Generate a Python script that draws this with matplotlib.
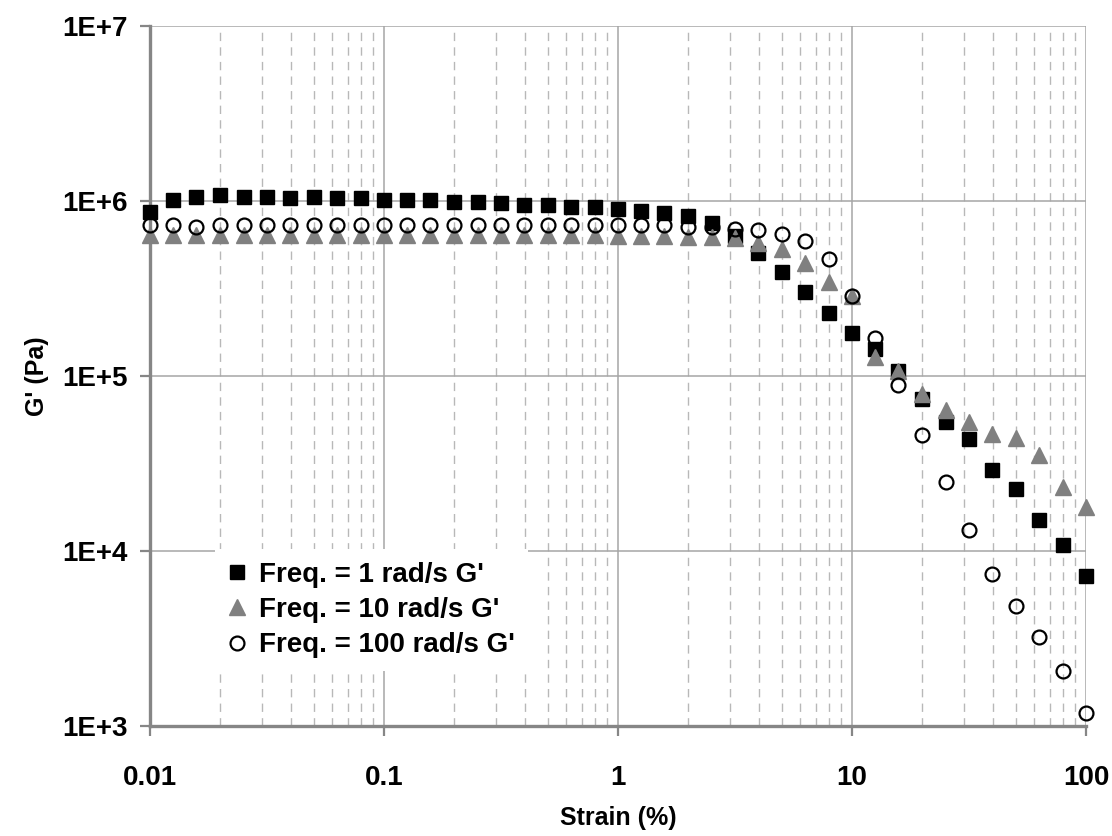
import matplotlib
matplotlib.use("Agg")
import matplotlib.pyplot as plt
from matplotlib.ticker import FixedLocator, FixedFormatter, NullFormatter

plt.rcParams['font.family'] = ['Liberation Sans', 'DejaVu Sans']
plt.rcParams['font.weight'] = 'bold'

# Strain (%) values, 10 points per decade
strain = [0.01, 0.0126, 0.0158, 0.02, 0.0251, 0.0316, 0.0398, 0.0501, 0.0631, 0.0794,
          0.1, 0.126, 0.158, 0.2, 0.251, 0.316, 0.398, 0.501, 0.631, 0.794,
          1.0, 1.26, 1.58, 2.0, 2.51, 3.16, 3.98, 5.01, 6.31, 7.94,
          10.0, 12.6, 15.8, 20.0, 25.1, 31.6, 39.8, 50.1, 63.1, 79.4, 100.0]

# G' (Pa) for each frequency
g_1 = [8.66e5, 1.01e6, 1.06e6, 1.08e6, 1.06e6, 1.06e6, 1.04e6, 1.06e6, 1.04e6, 1.04e6,
       1.01e6, 1.01e6, 1.01e6, 9.93e5, 9.93e5, 9.70e5, 9.49e5, 9.49e5, 9.29e5, 9.29e5,
       9.00e5, 8.77e5, 8.59e5, 8.21e5, 7.53e5, 6.31e5, 5.02e5, 3.93e5, 3.02e5, 2.30e5,
       1.77e5, 1.42e5, 1.065e5, 7.41e4, 5.44e4, 4.37e4, 2.92e4, 2.26e4, 1.51e4, 1.086e4, 7.22e3]

g_10 = [6.40e5, 6.40e5, 6.40e5, 6.40e5, 6.40e5, 6.40e5, 6.40e5, 6.40e5, 6.40e5, 6.40e5,
        6.40e5, 6.40e5, 6.40e5, 6.40e5, 6.40e5, 6.40e5, 6.40e5, 6.40e5, 6.40e5, 6.40e5,
        6.35e5, 6.31e5, 6.31e5, 6.25e5, 6.25e5, 6.18e5, 5.78e5, 5.35e5, 4.44e5, 3.44e5,
        2.85e5, 1.29e5, 1.065e5, 7.94e4, 6.43e4, 5.44e4, 4.69e4, 4.43e4, 3.55e4, 2.32e4, 1.78e4]

g_100 = [7.29e5, 7.29e5, 7.10e5, 7.29e5, 7.29e5, 7.29e5, 7.29e5, 7.29e5, 7.29e5, 7.29e5,
         7.29e5, 7.29e5, 7.29e5, 7.29e5, 7.29e5, 7.29e5, 7.29e5, 7.29e5, 7.29e5, 7.29e5,
         7.26e5, 7.26e5, 7.26e5, 7.14e5, 7.14e5, 6.96e5, 6.80e5, 6.51e5, 5.91e5, 4.64e5,
         2.86e5, 1.65e5, 8.86e4, 4.58e4, 2.48e4, 1.31e4, 7.41e3, 4.86e3, 3.24e3, 2.07e3, 1.18e3]

x_ticks = [0.01, 0.1, 1, 10, 100]
x_labels = ["0.01", "0.1", "1", "10", "100"]
y_ticks = [1e3, 1e4, 1e5, 1e6, 1e7]
y_labels = ["1E+3", "1E+4", "1E+5", "1E+6", "1E+7"]

GRID = "#a6a6a6"
AXIS = "#868686"

fig = plt.figure(figsize=(11.12, 8.36), dpi=100)
ax = fig.add_axes([150 / 1112, 1 - 726 / 836, 936 / 1112, 700 / 836])

ax.set_xscale("log")
ax.set_yscale("log")
ax.set_xlim(0.01, 100)
ax.set_ylim(1e3, 1e7)

# grid: solid majors, dashed vertical minors
ax.xaxis.set_major_locator(FixedLocator(x_ticks))
ax.xaxis.set_major_formatter(FixedFormatter(x_labels))
ax.yaxis.set_major_locator(FixedLocator(y_ticks))
ax.yaxis.set_major_formatter(FixedFormatter(y_labels))
minors = [m * d for d in [0.01, 0.1, 1, 10] for m in range(2, 10)]
ax.xaxis.set_minor_locator(FixedLocator(minors))
ax.xaxis.set_minor_formatter(NullFormatter())
ax.yaxis.set_minor_locator(FixedLocator([]))

ax.grid(True, which="major", color=GRID, linewidth=1.1, linestyle="-")
ax.grid(True, which="minor", axis="x", color="#b8b8b8", linewidth=1.0,
        linestyle=(0, (6, 4.5)))
ax.set_axisbelow(True)

for s in ["top", "right"]:
    ax.spines[s].set_visible(False)
for s in ["left", "bottom"]:
    ax.spines[s].set_color(AXIS)
    ax.spines[s].set_linewidth(2.4)

ax.tick_params(which="major", direction="out", length=7, width=1.6, color=AXIS,
               labelsize=20, pad=9)
ax.tick_params(axis="x", which="major", pad=21)
ax.tick_params(which="minor", length=0)

# data
ax.plot(strain, g_1, linestyle="none", marker="s", markersize=10,
        color="black", label="Freq. = 1 rad/s G'", clip_on=False, zorder=3)
ax.plot(strain, g_10, linestyle="none", marker="^", markersize=11.5,
        color="#808080", label="Freq. = 10 rad/s G'", clip_on=False, zorder=4)
ax.plot(strain, g_100, linestyle="none", marker="o", markersize=10,
        markerfacecolor="none", markeredgecolor="black", markeredgewidth=1.6,
        label="Freq. = 100 rad/s G'", clip_on=False, zorder=5)

ax.set_xlabel("Strain (%)", fontsize=18, fontweight="bold")
ax.set_ylabel("G' (Pa)", fontsize=18, fontweight="bold")
ax.xaxis.set_label_coords(0.5, -0.114)
ax.yaxis.set_label_coords(-0.108, 0.5)

leg = ax.legend(loc="upper left", bbox_to_anchor=((215 - 150) / 936, (726 - 549) / 700),
                frameon=True, fancybox=False, borderaxespad=0, borderpad=0.45,
                handlelength=0.7, handletextpad=0.45, labelspacing=0.34,
                prop={"size": 20, "weight": "bold"})
frame = leg.get_frame()
frame.set_facecolor("white")
frame.set_edgecolor("none")
frame.set_alpha(1)
leg.set_zorder(6)
# legend circle gets a white fill like the reference
leg.legend_handles[2].set_markerfacecolor("white")

fig.savefig("out.png", dpi=100)
